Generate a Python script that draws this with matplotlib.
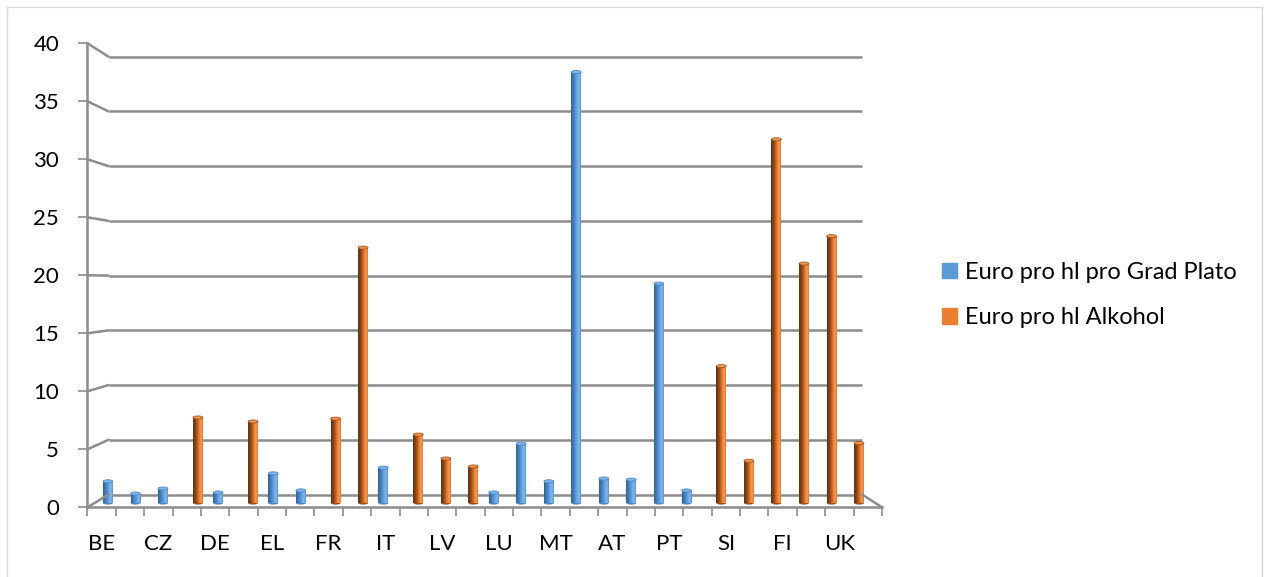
import numpy as np
import matplotlib.pyplot as plt
from matplotlib.colors import LinearSegmentedColormap
from matplotlib.patches import Ellipse, Patch, Rectangle, ConnectionPatch

nan = np.nan
countries = ["BE", "BG", "CZ", "DK", "DE", "EE", "EL", "ES", "FR", "IE",
             "IT", "CY", "LV", "LT", "LU", "HU", "MT", "NL", "AT", "PL",
             "PT", "RO", "SI", "SK", "FI", "SE", "UK", "HR"]
grad_plato = [1.9, 0.83, 1.27, nan, 0.92, nan, 2.6, 1.1, nan, nan,
              3.1, nan, nan, nan, 0.92, 5.2, 1.9, 37.8, 2.15, 2.05,
              19.25, 1.1, nan, nan, nan, nan, nan, nan]
alkohol = [nan, nan, nan, 7.5, nan, 7.15, nan, nan, 7.4, 22.4,
           nan, 6.0, 3.9, 3.2, nan, nan, nan, nan, nan, nan,
           nan, nan, 12.0, 3.7, 31.9, 21.0, 23.4, 5.25]
series_names = ["Euro pro hl pro Grad Plato", "Euro pro hl Alkohol"]
y_ticks = list(range(0, 45, 5))

W, H = 1264, 577
grid_col = "#8c8c8c"
blue, orange = "#5b9bd5", "#ed7d31"
blue_cmap = LinearSegmentedColormap.from_list("b", ["#34608c", "#3f78b3", "#4f8ccc", "#6aa6e0", "#80b8ee", "#5b94cc"])
orange_cmap = LinearSegmentedColormap.from_list("o", ["#5e3112", "#7a3f18", "#a9561f", "#e8782c", "#f79a52", "#e07a36"])

plt.rcParams['font.family'] = ['Lato', 'DejaVu Sans']
fig = plt.figure(figsize=(W / 100, H / 100), dpi=100)


def box(l, t, r, b):
    return [l / W, 1 - b / H, (r - l) / W, (b - t) / H]


# back wall with gridlines
ax_back = fig.add_axes(box(108.5, 56.7, 862, 494.5))
ax_back.set_facecolor("none")
ax_back.set_xlim(0, 1)
ax_back.set_ylim(0, 40)
ax_back.hlines(y_ticks, 0, 1, color=grid_col, lw=1.8, clip_on=False)
ax_back.axis("off")

# bars
ax_bars = fig.add_axes(box(97.8, 47, 869.2, 503))
ax_bars.set_facecolor("none")
ax_bars.axis("off")
x = np.arange(len(countries))
w = 0.36
off = 0.1325
for vals, col, cmap, sh in [(grad_plato, blue, blue_cmap, -off), (alkohol, orange, orange_cmap, off)]:
    bars = ax_bars.bar(x + sh, vals, width=w, color=col, zorder=2)
    for r in bars:
        h = r.get_height()
        if np.isnan(h):
            continue
        x0 = r.get_x()
        im = ax_bars.imshow(np.linspace(0, 1, 64).reshape(1, -1), cmap=cmap, aspect="auto",
                            extent=[x0, x0 + w, 0, h], zorder=3)
        im.set_clip_path(r)
        ax_bars.add_patch(Ellipse((x0 + w / 2, 0), w, 0.28, facecolor=cmap(0.35),
                                  edgecolor="none", zorder=2.5, clip_on=False))
        ax_bars.add_patch(Ellipse((x0 + w / 2, h), w, 0.28, facecolor=cmap(0.75),
                                  edgecolor=cmap(0.3), lw=0.5, zorder=4))
ax_bars.set_xlim(-0.5, len(countries) - 0.5)
ax_bars.set_ylim(0, 40)

# front axes: spines, ticks, labels
ax_front = fig.add_axes(box(87.5, 43.3, 882, 507.3))
ax_front.set_facecolor("none")
ax_front.set_xlim(-0.5, len(countries) - 0.5)
ax_front.set_ylim(0, 40)
for s in ["top", "right"]:
    ax_front.spines[s].set_visible(False)
for s in ["left", "bottom"]:
    ax_front.spines[s].set_color(grid_col)
    ax_front.spines[s].set_linewidth(1.8)
ax_front.set_yticks(y_ticks)
ax_front.tick_params(axis="y", length=6.5, width=1.2, color=grid_col, pad=14, labelsize=16)
ax_front.set_xticks(x[::2])
ax_front.set_xticklabels(countries[::2])
ax_front.set_xticks(np.arange(-0.5, len(countries)), minor=True)
ax_front.tick_params(axis="x", which="major", length=0, pad=19, labelsize=16)
ax_front.tick_params(axis="x", which="minor", length=6.5, width=1.2, color=grid_col)

# perspective connectors
for v in y_ticks:
    fig.add_artist(ConnectionPatch(xyA=(-0.5, v), coordsA=ax_front.transData,
                                   xyB=(0, v), coordsB=ax_back.transData,
                                   color=grid_col, lw=1.8))
fig.add_artist(ConnectionPatch(xyA=(len(countries) - 0.5, 0), coordsA=ax_front.transData,
                               xyB=(1, 0), coordsB=ax_back.transData,
                               color=grid_col, lw=1.8))

fig.legend(handles=[Patch(color=blue), Patch(color=orange)], labels=series_names,
           loc="center left", bbox_to_anchor=(921 / W, 1 - 295 / H), frameon=False,
           fontsize=17, handlelength=0.62, handleheight=0.62, handletextpad=0.35,
           labelspacing=1.05)

fig.add_artist(Rectangle((7 / W, -0.01), (1262 - 7) / W, 1.01 - 7 / H,
                         transform=fig.transFigure, fill=False, edgecolor="#d9d9d9", lw=1))

fig.savefig("out.png", dpi=100)
